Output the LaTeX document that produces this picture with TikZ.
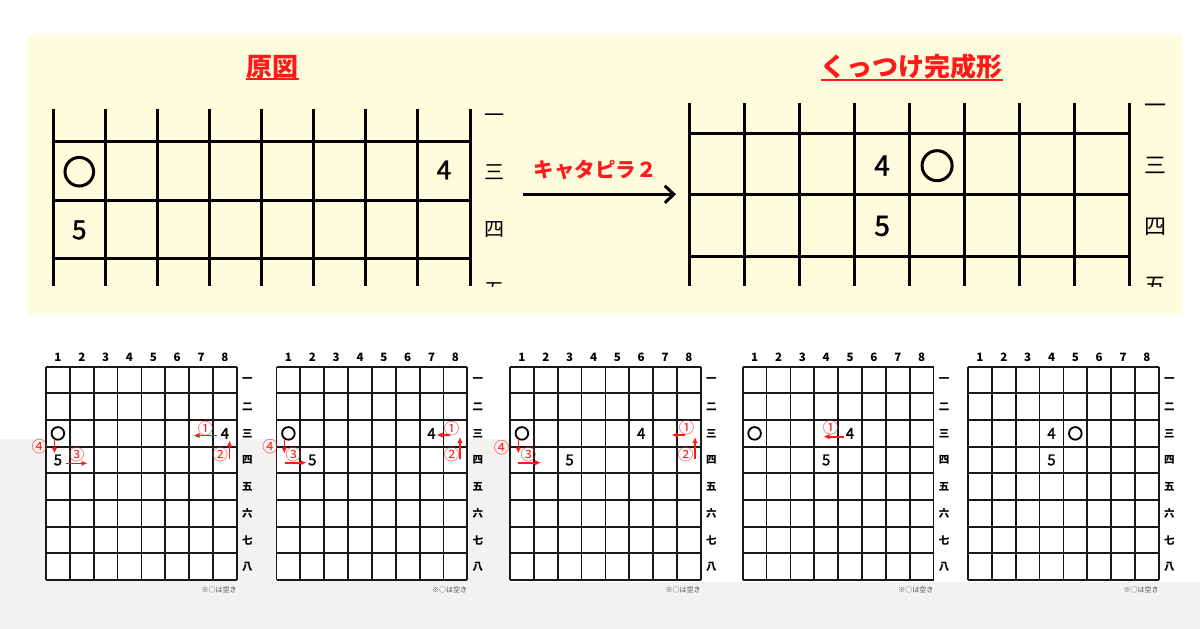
\documentclass[tikz,border=0pt]{standalone}
\usepackage{fontspec}
\setmainfont{Noto Sans CJK JP}
\newfontfamily\komafont{Noto Sans CJK JP}[RawFeature={embolden=1.6}]
\usepackage{xcolor}
\usepackage{tikz}
\usetikzlibrary{arrows, arrows.meta}

\definecolor{kiiro}{HTML}{FDFCDD}
\definecolor{haiiro}{HTML}{F3F2F0}
\definecolor{aka}{HTML}{FF1A1A}

\tikzset{
  midashi/.style={font=\bfseries\fontsize{26}{26}\selectfont, text=aka, inner sep=0},
  ookoma/.style={font=\komafont\fontsize{26}{26}\selectfont, inner sep=0},
  oomaru/.style={circle, draw, line width=3, minimum size=28.6, inner sep=0},
  oodan/.style={font=\fontsize{20}{20}\selectfont, inner sep=0},
  ookei/.style={line width=3},
  koma/.style={font=\komafont\fontsize{15}{15}\selectfont, inner sep=0},
  maru/.style={circle, draw, line width=1.8, minimum size=12.6, inner sep=0},
  kei/.style={line width=1.8, black!90},
  suji/.style={font=\bfseries\fontsize{11.5}{11.5}\selectfont, inner sep=0},
  dan/.style={font=\bfseries\fontsize{10.5}{10.5}\selectfont, inner sep=0},
  chui/.style={font=\fontsize{7}{7}\selectfont, text=black!70, inner sep=0},
  memo/.style={font=\fontsize{15.5}{15.5}\selectfont, text=aka, inner sep=0},
  yaji/.style={-{Latex[length=6pt,width=5.5pt]}, aka, line width=1.6},
}

\begin{document}
\begin{tikzpicture}[x=1pt, y=-1pt]
        \useasboundingbox (0,0) rectangle (1200,629);
        \fill[white] (0,0) rectangle (1200,629);
        \fill[haiiro] (0,439) -- (509,439) -- (509,582) -- (1200,582) -- (1200,629) -- (0,629) -- cycle;
        \fill[kiiro] (28,35) rectangle (1181.7,315);

        % titles
        \node[midashi] (orig-title) at (272.3,67) {原図};
        \draw[aka, line width=1.5] (orig-title.south west) -- (orig-title.south east);
        \node[midashi] (done-title) at (911.9,67) {くっつけ完成形};
        \draw[aka, line width=1.5] (done-title.south west) -- (done-title.south east);

        % orig board
        \foreach \k in {0,...,8}
            \draw[ookei] (53.3+\k*52.09,109) -- (53.3+\k*52.09,286);
        \foreach \y in {141,200,258.7}
            \draw[ookei] (53.3,\y) -- (470,\y);
        \node[oomaru] (orig-maru) at (79.3,171.7) {};
        \node[ookoma] (orig-four) at (444,170) {4};
        \node[ookoma] (orig-five) at (79.3,230) {5};
        \node[oodan] (orig-d1) at (494,118.3) {一};
        \node[oodan] (orig-d3) at (494,171.7) {三};
        \node[oodan] (orig-d4) at (494,230) {四};

        % orig -> done
        \node[font=\bfseries\fontsize{20.5}{20.5}\selectfont, text=aka, inner sep=0] (cat-label) at (595,170) {キャタピラ２};
        \coordinate (cat-start) at (523.2,194.3);
        \coordinate (cat-end) at (676,194.3);
        \draw[ookei, -{Straight Barb[length=9pt,width=17pt,line width=3pt]}] (cat-start) -- (cat-end);

        % done board
        \foreach \k in {0,...,8}
            \draw[ookei] (689.7+\k*54.98,102.7) -- (689.7+\k*54.98,286);
        \foreach \y in {133.3,194.5,256.3}
            \draw[ookei] (689.7,\y) -- (1129.5,\y);
        \node[ookoma, font=\komafont\fontsize{28}{28}\selectfont] (done-four) at (882.1,165.7) {4};
        \node[oomaru, minimum size=30] (done-maru) at (937.1,165.7) {};
        \node[ookoma, font=\komafont\fontsize{28}{28}\selectfont] (done-five) at (882.1,226) {5};
        \node[oodan, font=\fontsize{22}{22}\selectfont] (done-d1) at (1155,109) {一};
        \node[oodan, font=\fontsize{22}{22}\selectfont] (done-d3) at (1155,165) {三};
        \node[oodan, font=\fontsize{22}{22}\selectfont] (done-d4) at (1155,226.7) {四};

        % 五 cut off at the bottom
        \begin{scope}
            \clip (0,0) rectangle (1200,286);
            \node[oodan] (orig-d5) at (494,290) {五};
            \node[oodan, font=\fontsize{22}{22}\selectfont] (done-d5) at (1155,285.5) {五};
        \end{scope}

        % small boards
        \foreach \gx [count=\g] in {46,276.5,510,742.7,968} {
            \fill[white] (\gx,366.7) rectangle (\gx+190.8,580);
            \foreach \k in {0,...,8} {
                \draw[kei] (\gx+\k*23.85,366.7) -- (\gx+\k*23.85,580);
                \draw[kei] (\gx,366.7+\k*26.66) -- (\gx+190.8,366.7+\k*26.66);
            }
            \foreach \k in {1,...,8}
                \node[suji] (g\g-s\k) at (\gx+\k*23.85-11.9,357) {\k};
            \foreach \d [count=\k] in {一,二,三,四,五,六,七,八}
                \node[dan] (g\g-d\k) at (\gx+201.3,366.7+\k*26.66-13.3) {\d};
            \node[chui, anchor=east] (g\g-note) at (\gx+190.8,590) {※○は空き};
        }

        % board 1
        \node[maru] (g1-maru) at (57.9,433.4) {};
        \node[koma] (g1-four) at (224.9,433.4) {4};
        \node[koma] (g1-five) at (57.9,460) {5};
        \node[memo] (g1-n1) at (205.3,428.3) {①};
        \coordinate (g1-a1s) at (217,435.5);
        \coordinate (g1-a1e) at (193.5,435.5);
        \draw[yaji] (g1-a1s) -- (g1-a1e);
        \node[memo] (g1-n2) at (220,455) {②};
        \coordinate (g1-a2s) at (229.5,459.3);
        \coordinate (g1-a2e) at (229.5,440.5);
        \draw[yaji] (g1-a2s) -- (g1-a2e);
        \node[memo] (g1-n3) at (76.6,455) {③};
        \coordinate (g1-a3s) at (66,463.3);
        \coordinate (g1-a3e) at (87.5,463.3);
        \draw[yaji] (g1-a3s) -- (g1-a3e);
        \node[memo] (g1-n4) at (39.4,446.5) {④};
        \coordinate (g1-a4s) at (54.5,439);
        \coordinate (g1-a4e) at (54.5,453.5);
        \draw[yaji] (g1-a4s) -- (g1-a4e);

        % board 2
        \node[maru] (g2-maru) at (288.4,433.4) {};
        \node[koma] (g2-four) at (431.5,433.4) {4};
        \node[koma] (g2-five) at (312.3,460) {5};
        \node[memo] (g2-n1) at (451.7,428.3) {①};
        \coordinate (g2-a1s) at (450,435);
        \coordinate (g2-a1e) at (436.5,435);
        \draw[yaji] (g2-a1s) -- (g2-a1e);
        \node[memo] (g2-n2) at (451.7,455) {②};
        \coordinate (g2-a2s) at (460,459.3);
        \coordinate (g2-a2e) at (460,437);
        \draw[yaji] (g2-a2s) -- (g2-a2e);
        \node[memo] (g2-n3) at (293.3,455) {③};
        \coordinate (g2-a3s) at (285,462.7);
        \coordinate (g2-a3e) at (306.5,462.7);
        \draw[yaji] (g2-a3s) -- (g2-a3e);
        \node[memo] (g2-n4) at (270,446.7) {④};
        \coordinate (g2-a4s) at (284.3,439);
        \coordinate (g2-a4e) at (284.3,453.5);
        \draw[yaji] (g2-a4s) -- (g2-a4e);

        % board 3
        \node[maru] (g3-maru) at (521.9,433.4) {};
        \node[koma] (g3-four) at (641.2,433.4) {4};
        \node[koma] (g3-five) at (569.6,460) {5};
        \node[memo] (g3-n1) at (686.7,427.3) {①};
        \coordinate (g3-a1s) at (685,435);
        \coordinate (g3-a1e) at (671.5,435);
        \draw[yaji] (g3-a1s) -- (g3-a1e);
        \node[memo] (g3-n2) at (685.7,455) {②};
        \coordinate (g3-a2s) at (695,459.3);
        \coordinate (g3-a2e) at (695,437);
        \draw[yaji] (g3-a2s) -- (g3-a2e);
        \node[memo] (g3-n3) at (528.3,455) {③};
        \coordinate (g3-a3s) at (518.3,462.7);
        \coordinate (g3-a3e) at (541,462.7);
        \draw[yaji] (g3-a3s) -- (g3-a3e);
        \node[memo] (g3-n4) at (501.7,447.3) {④};
        \coordinate (g3-a4s) at (518.3,439);
        \coordinate (g3-a4e) at (518.3,453.5);
        \draw[yaji] (g3-a4s) -- (g3-a4e);

        % board 4
        \node[maru] (g4-maru) at (754.6,433.4) {};
        \node[koma] (g4-four) at (850,433.4) {4};
        \node[koma] (g4-five) at (826.2,460) {5};
        \node[memo] (g4-n1) at (830.7,427.7) {①};
        \coordinate (g4-a1s) at (844.3,436.7);
        \coordinate (g4-a1e) at (823.5,436.7);
        \draw[yaji] (g4-a1s) -- (g4-a1e);

        % board 5
        \node[koma] (g5-four) at (1051.5,433.4) {4};
        \node[maru] (g5-maru) at (1075.3,433.4) {};
        \node[koma] (g5-five) at (1051.5,460) {5};
    \end{tikzpicture}
\end{document}
